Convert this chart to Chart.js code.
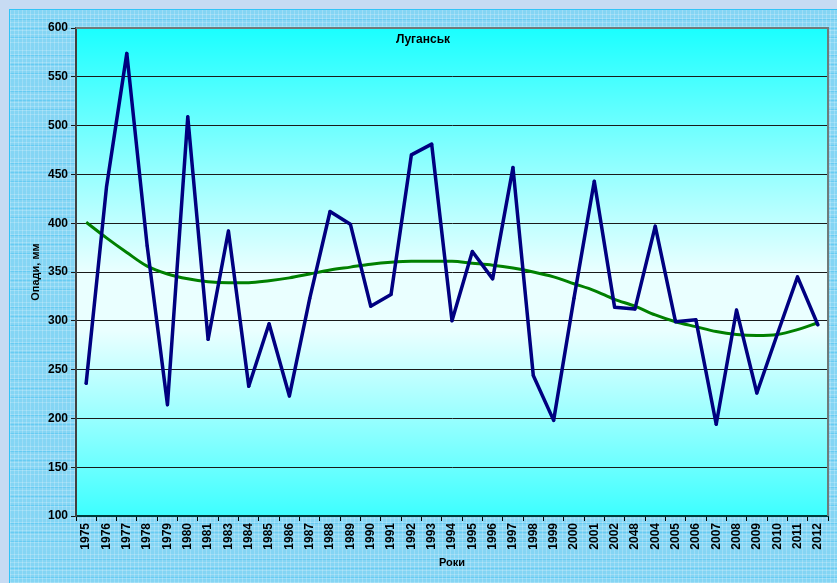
<!DOCTYPE html>
<html>
<head>
<meta charset="utf-8">
<script src="https://cdn.jsdelivr.net/npm/chart.js@4"></script>
<style>
  html, body { margin: 0; padding: 0; }
  body { width: 837px; height: 583px; background: #c7dbf3; position: relative; overflow: hidden; }
  #frame {
    position: absolute; left: 9px; top: 9px; right: 0; bottom: 0;
    border-left: 1px solid #33c4f6; border-top: 1px solid #33c4f6;
    background-color: #84d5f4;
    background-image:
      linear-gradient(rgba(255,255,255,0.2) 1px, transparent 1px),
      linear-gradient(90deg, rgba(255,255,255,0.2) 1px, transparent 1px),
      linear-gradient(rgba(40,180,240,0.3) 1px, transparent 1px);
    background-size: 4px 4px, 4px 4px, 100% 9px;
  }
  #c { position: absolute; left: 0; top: 0; }
</style>
</head>
<body>
<div id="frame"></div>
<canvas id="c" width="837" height="583"></canvas>
<script>
const roky = ['1975', '1976', '1977', '1978', '1979', '1980', '1981', '1983', '1984', '1985',
  '1986', '1987', '1988', '1989', '1990', '1991', '1992', '1993', '1994', '1995',
  '1996', '1997', '1998', '1999', '2000', '2001', '2002', '2048', '2004', '2005',
  '2006', '2007', '2008', '2009', '2010', '2011', '2012'];

const opady = [236, 437, 574, 377, 214, 509, 281, 392, 233, 297,
  223, 323, 412, 399, 315, 327, 470, 481, 300, 371,
  343, 457, 244, 198, 323, 443, 314, 312, 397, 299,
  301, 194, 311, 226, 286, 345, 296];

// polynomial trend as seen in the picture
const trend = [401, 385, 370, 356, 348, 343, 340, 339, 339, 341,
  344, 348, 352, 355, 358, 360, 361, 361, 361, 359,
  357, 354, 350, 345, 338, 331, 322, 315, 306, 299,
  294, 289, 286, 285, 286, 291, 298];

const yTicks = [100, 150, 200, 250, 300, 350, 400, 450, 500, 550, 600];

const fontBold = { family: 'Arial, "Liberation Sans", sans-serif', size: 11, weight: 'bold' };
const tickFont = { family: 'Arial, "Liberation Sans", sans-serif', size: 12, weight: 'bold' };

const plotBg = {
  id: 'plotBg',
  beforeDraw(chart) {
    const { ctx, chartArea: a } = chart;
    const g = ctx.createLinearGradient(0, a.top, 0, a.bottom);
    g.addColorStop(0, '#1affff');
    g.addColorStop(0.5, '#eaffff');
    g.addColorStop(0.62, '#eaffff');
    g.addColorStop(1, '#3dffff');
    ctx.save();
    ctx.fillStyle = g;
    ctx.fillRect(a.left, a.top, a.right - a.left, a.bottom - a.top);
    ctx.restore();
  },
  afterDraw(chart) {
    const { ctx, chartArea: a } = chart;
    ctx.save();
    ctx.strokeStyle = '#6e7b7b';
    ctx.lineWidth = 2;
    ctx.beginPath();
    ctx.moveTo(a.left, a.top);
    ctx.lineTo(a.right, a.top);
    ctx.lineTo(a.right, a.bottom);
    ctx.stroke();
    ctx.fillStyle = '#000';
    ctx.font = 'bold 12px Arial, "Liberation Sans", sans-serif';
    ctx.textAlign = 'center';
    ctx.textBaseline = 'middle';
    ctx.fillText('Луганськ', 423, 40);
    ctx.restore();
  }
};

new Chart(document.getElementById('c'), {
  type: 'line',
  data: {
    labels: roky,
    datasets: [{
      label: 'Опади',
      data: opady,
      borderColor: '#000080',
      backgroundColor: '#000080',
      borderWidth: 3.5,
      borderJoinStyle: 'round',
      borderCapStyle: 'round',
      pointRadius: 1.5,
      pointBorderWidth: 0,
      tension: 0
    }, {
      label: 'Тренд',
      data: trend,
      borderColor: '#008000',
      borderWidth: 3,
      pointRadius: 0,
      cubicInterpolationMode: 'monotone'
    }]
  },
  options: {
    responsive: false,
    animation: false,
    layout: { padding: { left: 9, top: 28, right: 9, bottom: 0 } },
    plugins: {
      legend: { display: false },
      tooltip: { enabled: false }
    },
    scales: {
      x: {
        offset: true,
        afterFit(s) { s.height = 67; },
        grid: { offset: true, drawOnChartArea: false, drawTicks: true, tickLength: 5, color: '#000' },
        border: { color: '#003c3c', width: 2 },
        ticks: { color: '#000', font: tickFont, minRotation: 90, maxRotation: 90, autoSkip: false, padding: 2 },
        title: { display: true, text: 'Роки', color: '#000', font: fontBold, padding: { top: 0, bottom: 13 } }
      },
      y: {
        min: 100,
        max: 600,
        afterFit(s) { s.width = 67; },
        afterBuildTicks(s) { s.ticks = yTicks.map(v => ({ value: v })); },
        grid: { color: '#1a1a1a', lineWidth: 1, tickLength: 5 },
        border: { color: '#404040', width: 2 },
        ticks: { color: '#000', font: tickFont, padding: 3 },
        title: { display: true, text: 'Опади, мм', color: '#000', font: fontBold, padding: { top: 20, bottom: 0 } }
      }
    }
  },
  plugins: [plotBg]
});
</script>
</body>
</html>
